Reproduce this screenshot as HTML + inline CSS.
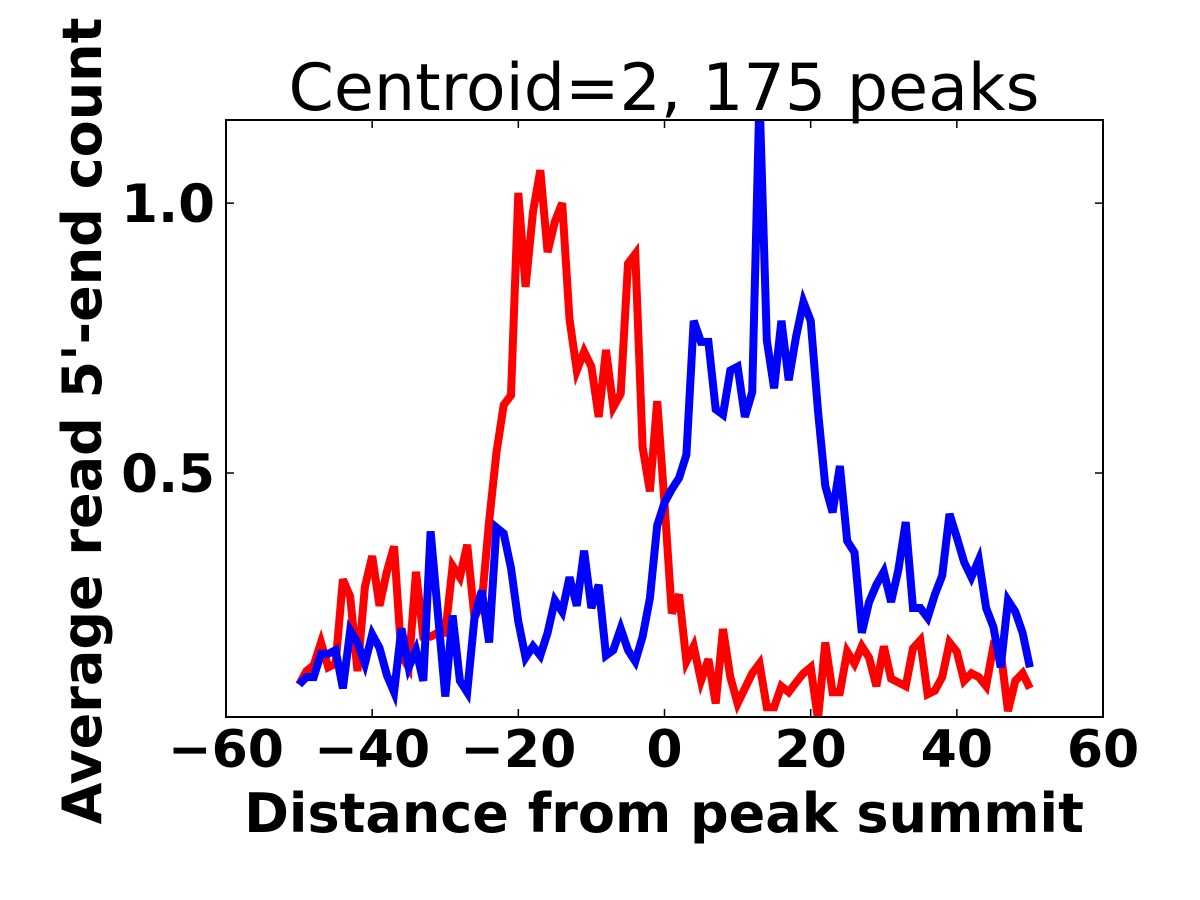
<!DOCTYPE html>
<html><head><meta charset="utf-8"><style>
body{margin:0;background:#fff;}
svg{display:block;font-family:"DejaVu Sans","Liberation Sans",sans-serif;}
</style></head><body>
<svg id="chart" width="1200" height="900">
<rect width="1200" height="900" fill="#fff"/>
<text x="664" y="110" font-size="65" text-anchor="middle">Centroid=2, 175 peaks</text>
<g id="plot"></g>
<text x="664" y="832" font-size="54" font-weight="bold" text-anchor="middle">Distance from peak summit</text>
<text transform="translate(101,421) rotate(-90)" font-size="54" font-weight="bold" text-anchor="middle">Average read 5'-end count</text>
</svg>
<script>
const xs = [];
for (let i = -50; i <= 50; i++) xs.push(i);
const redVals = [0.108,0.133,0.144,0.186,0.140,0.147,0.303,0.271,0.133,0.289,0.346,0.254,0.317,0.364,0.162,0.140,0.317,0.197,0.197,0.204,0.204,0.328,0.307,0.367,0.232,0.26,0.41,0.537,0.626,0.644,1.019,0.845,0.984,1.061,0.909,0.966,1.0,0.785,0.690,0.725,0.697,0.604,0.728,0.622,0.647,0.888,0.906,0.548,0.466,0.633,0.445,0.240,0.275,0.151,0.179,0.115,0.155,0.073,0.211,0.122,0.073,0.101,0.129,0.147,0.066,0.066,0.105,0.094,0.112,0.129,0.140,0.044,0.186,0.094,0.094,0.169,0.147,0.179,0.158,0.105,0.179,0.119,0.112,0.105,0.175,0.190,0.090,0.097,0.122,0.186,0.169,0.115,0.129,0.122,0.105,0.179,0.169,0.059,0.115,0.129,0.101];
const blueVals = [0.108,0.122,0.122,0.165,0.165,0.172,0.101,0.208,0.186,0.147,0.201,0.176,0.126,0.094,0.212,0.140,0.172,0.115,0.392,0.240,0.086,0.236,0.115,0.094,0.232,0.282,0.186,0.399,0.388,0.324,0.225,0.158,0.179,0.162,0.204,0.264,0.243,0.307,0.254,0.356,0.250,0.293,0.162,0.172,0.212,0.172,0.151,0.197,0.268,0.403,0.445,0.470,0.491,0.534,0.782,0.743,0.743,0.618,0.608,0.690,0.697,0.604,0.650,1.2,0.746,0.657,0.782,0.672,0.753,0.817,0.782,0.615,0.476,0.427,0.513,0.374,0.353,0.204,0.261,0.293,0.317,0.261,0.321,0.409,0.250,0.250,0.232,0.275,0.310,0.424,0.381,0.335,0.307,0.339,0.250,0.215,0.140,0.264,0.243,0.204,0.140];
const xTicks = [-60,-40,-20,0,20,40,60];
const xTickLabels = ["\u221260","\u221240","\u221220","0","20","40","60"];
const yTicks = [0.5,1.0];
const yTickLabels = ["0.5","1.0"];

const L=226,R=1103,T=120,B=717;
const xMin=-60,xMax=60,yMin=0.048,yMax=1.154;
const sx=v=>L+(v-xMin)/(xMax-xMin)*(R-L);
const sy=v=>B-(v-yMin)/(yMax-yMin)*(B-T);
const NS="http://www.w3.org/2000/svg";
const g=document.getElementById('plot');
function mk(tag,attrs){const e=document.createElementNS(NS,tag);for(const k in attrs)e.setAttribute(k,attrs[k]);g.appendChild(e);return e;}

const defs=mk('defs',{});
const cp=document.createElementNS(NS,'clipPath');cp.setAttribute('id','clip');
const cr=document.createElementNS(NS,'rect');cr.setAttribute('x',L);cr.setAttribute('y',T);cr.setAttribute('width',R-L);cr.setAttribute('height',B-T);
cp.appendChild(cr);defs.appendChild(cp);

function line(vals,color,name){
  const d=vals.map((v,i)=>(i?'L':'M')+sx(xs[i]).toFixed(1)+' '+sy(v).toFixed(1)).join(' ');
  const p=mk('path',{d:d,fill:'none',stroke:color,'stroke-width':8,'stroke-linejoin':'miter','clip-path':'url(#clip)'});
  
  
}
line(redVals,'#ff0000','red-series-line');
line(blueVals,'#0000ff','blue-series-line');

const frame=mk('rect',{x:L,y:T,width:R-L,height:B-T,fill:'none',stroke:'#000','stroke-width':2});



xTicks.forEach((v,i)=>{
  const x=sx(v);
  mk('line',{x1:x,x2:x,y1:B,y2:B-8,stroke:'#000','stroke-width':1.5});
  mk('line',{x1:x,x2:x,y1:T,y2:T+8,stroke:'#000','stroke-width':1.5});
  const t=mk('text',{x:x,y:767,'font-size':52,'font-weight':'bold','text-anchor':'middle'});
  t.textContent=xTickLabels[i];
  
  
});
yTicks.forEach((v,i)=>{
  const y=sy(v);
  mk('line',{x1:L,x2:L+8,y1:y,y2:y,stroke:'#000','stroke-width':1.5});
  mk('line',{x1:R,x2:R-8,y1:y,y2:y,stroke:'#000','stroke-width':1.5});
  const t=mk('text',{x:215,y:y+19,'font-size':53,'font-weight':'bold','text-anchor':'end'});
  t.textContent=yTickLabels[i];
  
  
});
</script>
</body></html>
